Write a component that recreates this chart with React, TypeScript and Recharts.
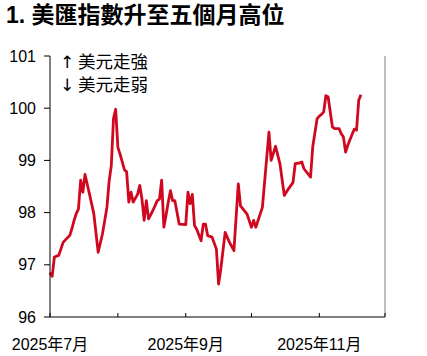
import React from 'react';
import { LineChart, Line, XAxis, YAxis } from 'recharts';

const dayOffsets = [0,1,2,4,6,8,9,10,11,12,13,14,15,16,18,20,22,24,26,27,28,29,30,31,32,33,34,35,36,37,38,40,41,42,43,44,45,47,49,50,51,52,53,54,55,56,57,59,62,63,64,65,66,67,69,70,71,72,74,76,77,78,80,82,84,86,87,90,92,93,94,97,100,101,103,105,107,109,111,112,114,115,116,119,120,122,123,124,125,126,127,129,130,132,133,134,135,136,138,139,140,141,142];
const dxyValues = [96.85,96.78,97.15,97.18,97.43,97.52,97.56,97.69,97.85,97.98,98.07,98.62,98.39,98.73,98.36,97.98,97.24,97.6,98.1,98.6,98.9,99.8,99.98,99.25,99.12,98.97,98.82,98.78,98.2,98.39,98.2,98.35,98.52,98.26,97.85,98.23,97.88,98.04,98.23,98.26,98.62,97.72,97.95,98.2,98.42,98.23,98.23,97.78,97.77,98.39,98.17,98.35,97.75,97.68,97.46,97.78,97.78,97.56,97.53,97.3,96.63,96.92,97.62,97.43,97.27,98.55,98.13,97.97,97.72,97.85,97.72,98.1,99.54,99.0,99.27,98.94,98.33,98.46,98.58,98.94,98.95,98.97,98.84,98.68,99.26,99.8,99.85,99.88,99.93,100.24,100.22,99.64,99.61,99.61,99.51,99.45,99.16,99.29,99.5,99.6,99.58,100.15,100.26];

const monthTickDays = [0, 31, 62, 92, 123, 153];
const monthTickLabels = ['2025年7月', '', '2025年9月', '', '2025年11月', ''];
const yTicks = [96, 97, 98, 99, 100, 101];

const title = '1. 美匯指數升至五個月高位';
const legendUp = '美元走強';
const legendDown = '美元走弱';

const data = dayOffsets.map((d, i) => ({ day: d, v: dxyValues[i] }));

const FONT = '"Liberation Sans", Arial, "Noto Sans CJK TC", sans-serif';

const XTick = (props: any) => {
  const { x, y, payload, index } = props;
  const label = monthTickLabels[index] ?? '';
  return (
    <g>
      <line x1={x} y1={y} x2={x} y2={y - 4} stroke="#000" strokeWidth={1} />
      {label ? (
        <text x={x} y={y + 33} textAnchor="middle" fontSize={16} fontFamily={FONT} fill="#000">
          {label}
        </text>
      ) : null}
    </g>
  );
};

export default function App() {
  return (
    <div style={{ position: 'absolute', left: 0, top: 0, width: 427, height: 356, background: '#fff', overflow: 'hidden' }}>
      <LineChart
        width={427}
        height={356}
        data={data}
        margin={{ top: 56, right: 0, bottom: 0, left: 0 }}
      >
        <XAxis
          dataKey="day"
          type="number"
          domain={[0, 153]}
          ticks={monthTickDays}
          interval={0}
          tickSize={0}
          tickMargin={0}
          tickLine={false}
          tick={<XTick />}
          height={39}
          axisLine={{ stroke: '#000', strokeWidth: 1 }}
        />
        <YAxis
          yAxisId="left"
          orientation="left"
          domain={[96, 101]}
          ticks={yTicks}
          interval={0}
          width={50}
          tickSize={6}
          tickMargin={8}
          axisLine={{ stroke: '#000', strokeWidth: 1 }}
          tickLine={{ stroke: '#000', strokeWidth: 1 }}
          tick={{ fontSize: 16, fontFamily: FONT, fill: '#000' }}
        />
        <YAxis
          yAxisId="right"
          orientation="right"
          domain={[96, 101]}
          ticks={yTicks}
          interval={0}
          width={42}
          tickSize={4}
          tickMargin={8}
          axisLine={{ stroke: '#808080', strokeWidth: 1 }}
          tickLine={{ stroke: '#808080', strokeWidth: 1 }}
          tick={{ fontSize: 16, fontFamily: FONT, fill: '#000' }}
        />
        <Line
          yAxisId="left"
          type="linear"
          dataKey="v"
          stroke="#d0081f"
          strokeWidth={2.8}
          strokeLinejoin="round"
          dot={false}
          isAnimationActive={false}
        />
      </LineChart>
      <div style={{ position: 'absolute', left: 60, top: 52, fontFamily: '"DejaVu Sans", sans-serif', fontSize: 17, lineHeight: '20px', color: '#000' }}>↑</div>
      <div style={{ position: 'absolute', left: 6, top: 4, fontFamily: FONT, fontWeight: 'bold', fontSize: 23, lineHeight: '23px', color: '#000', whiteSpace: 'nowrap' }}>
        {title}
      </div>
      <div style={{ position: 'absolute', left: 78, top: 52, fontFamily: FONT, fontSize: 17.5, lineHeight: '20px', color: '#000', whiteSpace: 'nowrap' }}>{legendUp}</div>
      <div style={{ position: 'absolute', left: 60, top: 75, fontFamily: '"DejaVu Sans", sans-serif', fontSize: 17, lineHeight: '20px', color: '#000' }}>↓</div>
      <div style={{ position: 'absolute', left: 78, top: 75, fontFamily: FONT, fontSize: 17.5, lineHeight: '20px', color: '#000', whiteSpace: 'nowrap' }}>{legendDown}</div>
    </div>
  );
}
